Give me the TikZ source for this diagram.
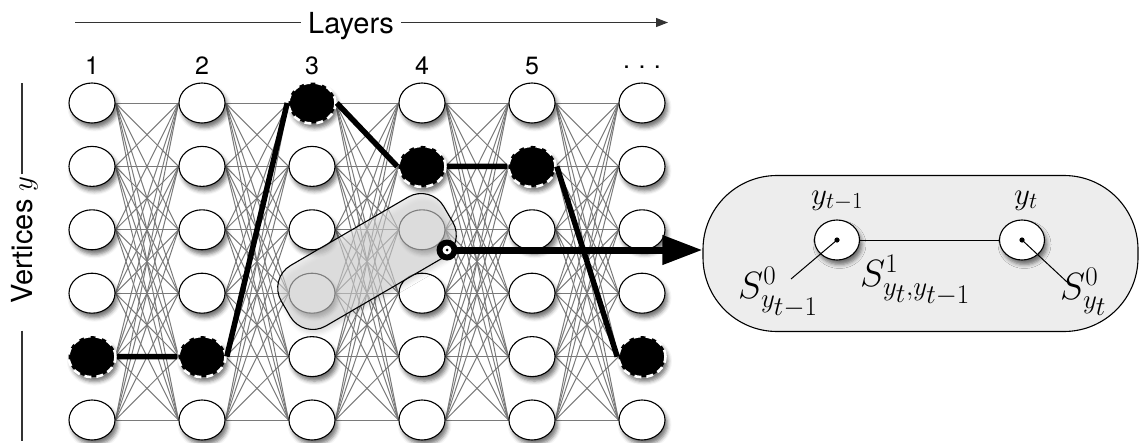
\RequirePackage{fix-cm}
\documentclass[tikz,border=0pt]{standalone}
\usepackage{fontspec}
\setsansfont{TeX Gyre Heros}
\DeclareMathSizes{31}{31}{23}{18}
\DeclareMathSizes{38}{38}{27}{27}
\usetikzlibrary{shadows.blur,arrows.meta,shapes.geometric,calc}
\begin{document}
\begin{tikzpicture}[x=1pt,y=-1pt,
  softshadow/.style={blur shadow={shadow xshift=2.5pt,shadow yshift=-4.5pt,
      shadow blur radius=4pt,shadow opacity=55}},
  vtx/.style={ellipse,draw=black,line width=1.1pt,fill=white,inner sep=0pt,
    minimum width=46pt,minimum height=40pt,softshadow},
  selvtx/.style={vtx,fill=black,draw=white,line width=2.6pt,
    dash pattern=on 7pt off 5pt,minimum width=47pt,minimum height=41pt},
  edge/.style={draw=black!52,line width=1pt},
  route/.style={draw=black,line width=5.5pt},
  collabel/.style={font=\sffamily\fontsize{25}{28}\selectfont,inner sep=0pt,anchor=base},
  axislabel/.style={font=\sffamily\fontsize{29}{32}\selectfont,inner ysep=0pt,inner xsep=7pt,anchor=base},
  axisline/.style={draw=black!80,line width=1.1pt},
  hlpill/.style={draw=black,line width=1.1pt,rounded corners=26pt,
    fill=black!13,fill opacity=0.57,minimum width=188pt,minimum height=70pt,
    inner sep=0pt,rotate=30.2,
    blur shadow={shadow xshift=2pt,shadow yshift=-4pt,shadow blur radius=4pt,shadow opacity=25}},
  bigarrow/.style={draw=black,line width=7pt,-{Triangle[length=40pt,width=28pt]}},
  panelbox/.style={draw=black,line width=1.1pt,rounded corners=74pt,fill=black!7,
    minimum width=435pt,minimum height=156pt,inner sep=0pt},
  pvtx/.style={vtx,minimum width=45pt,minimum height=40pt},
  mathlbl/.style={inner sep=0pt,anchor=base west},
  thinline/.style={draw=black,line width=1pt}
]
\useasboundingbox (0,0) rectangle (1140,442);

% axis titles
\node[axislabel] (layers) at (351,33) {Layers};
\coordinate (lstart) at (75,22.5);
\coordinate (lend) at (668,22.5);
\draw[axisline] (lstart) -- (layers.west |- lstart);
\draw[axisline,-{Triangle[length=12pt,width=9pt]}] (layers.east |- lend) -- (lend);

\node[axislabel,rotate=90,inner xsep=2pt] (vlab) at (32,240) {Vertices $y$};
\coordinate (vtop) at (22,83);
\coordinate (vbot) at (22,441);
\draw[axisline] (vlab.east -| vtop) -- (vtop);
\draw[axisline,shorten <=25pt] (vlab.west -| vbot) -- (vbot);

% layer numbers
\foreach \c in {1,...,5}
  \node[collabel] (h\c) at ({92+110*(\c-1)},74) {\c};
\node[collabel] (h6) at (642,68) {.\,\,.\,\,.};

% vertex positions
\foreach \c in {1,...,6}
  \foreach \r in {1,...,6}
    \coordinate (p\c-\r) at ({92+110*(\c-1)},{103+63.4*(\r-1)});

% all transitions between consecutive layers
\foreach \c [evaluate=\c as \d using int(\c+1)] in {1,...,5}
  \foreach \r in {1,...,6}
    \foreach \s in {1,...,6}
      \draw[edge] ([xshift=23.5pt]p\c-\r) -- ([xshift=-23.5pt]p\d-\s);

% lattice of vertices; one chosen vertex per layer
\foreach \c/\sr in {1/5,2/5,3/1,4/2,5/2,6/5}{
  \foreach \r in {1,...,6}{
    \ifnum\r=\sr\relax\def\vst{selvtx}\else\def\vst{vtx}\fi
    \node[\vst] (n\c-\r) at (p\c-\r) {};
  }
}

% best path
\draw[route] (n1-5.east) -- (n2-5.west)
             (n2-5.east) -- (n3-1.west)
             (n3-1.east) -- (n4-2.west)
             (n4-2.east) -- (n5-2.west)
             (n5-2.east) -- (n6-5.west);

% highlighted pair of vertices
\node[hlpill] (hl) at ($(n3-4)!0.5!(n4-3)$) {};

% magnified factor
\node[panelbox] (panel) at (920.5,253.5) {};

\coordinate (mpos) at (447,250);
\draw[bigarrow] (mpos) -- (mpos -| panel.west);
\node[circle,fill=black,minimum size=21pt,inner sep=0pt] (m) at (mpos) {};
\fill[white] (m.center) circle (4.5pt);
\fill[black] (m.center) circle (1.5pt);

\node[pvtx] (pa) at (837,240) {};
\node[pvtx] (pb) at (1022,240) {};
\draw[thinline] (pa.east) -- (pb.west);
\fill (pa.center) circle (2.6pt);
\fill (pb.center) circle (2.6pt);

\node[mathlbl] (ya) at (811,204) {\fontsize{31}{34}\selectfont$y_{t-1}$};
\node[mathlbl] (yb) at (1014,204) {\fontsize{31}{34}\selectfont$y_{t}$};

\node[mathlbl] (sa) at (738,298) {\fontsize{38}{42}\selectfont$S^{0}_{y_{t-1}}$};
\node[mathlbl] (sab) at (860,286) {\fontsize{38}{42}\selectfont$S^{1}_{y_{t},y_{t-1}}$};
\node[mathlbl] (sb) at (1060,299) {\fontsize{38}{42}\selectfont$S^{0}_{y_{t}}$};

\coordinate (ea) at (791,279);
\coordinate (eb) at (1067,282);
\draw[thinline] (pa.center) -- (ea);
\draw[thinline] (pb.center) -- (eb);
\end{tikzpicture}
\end{document}
